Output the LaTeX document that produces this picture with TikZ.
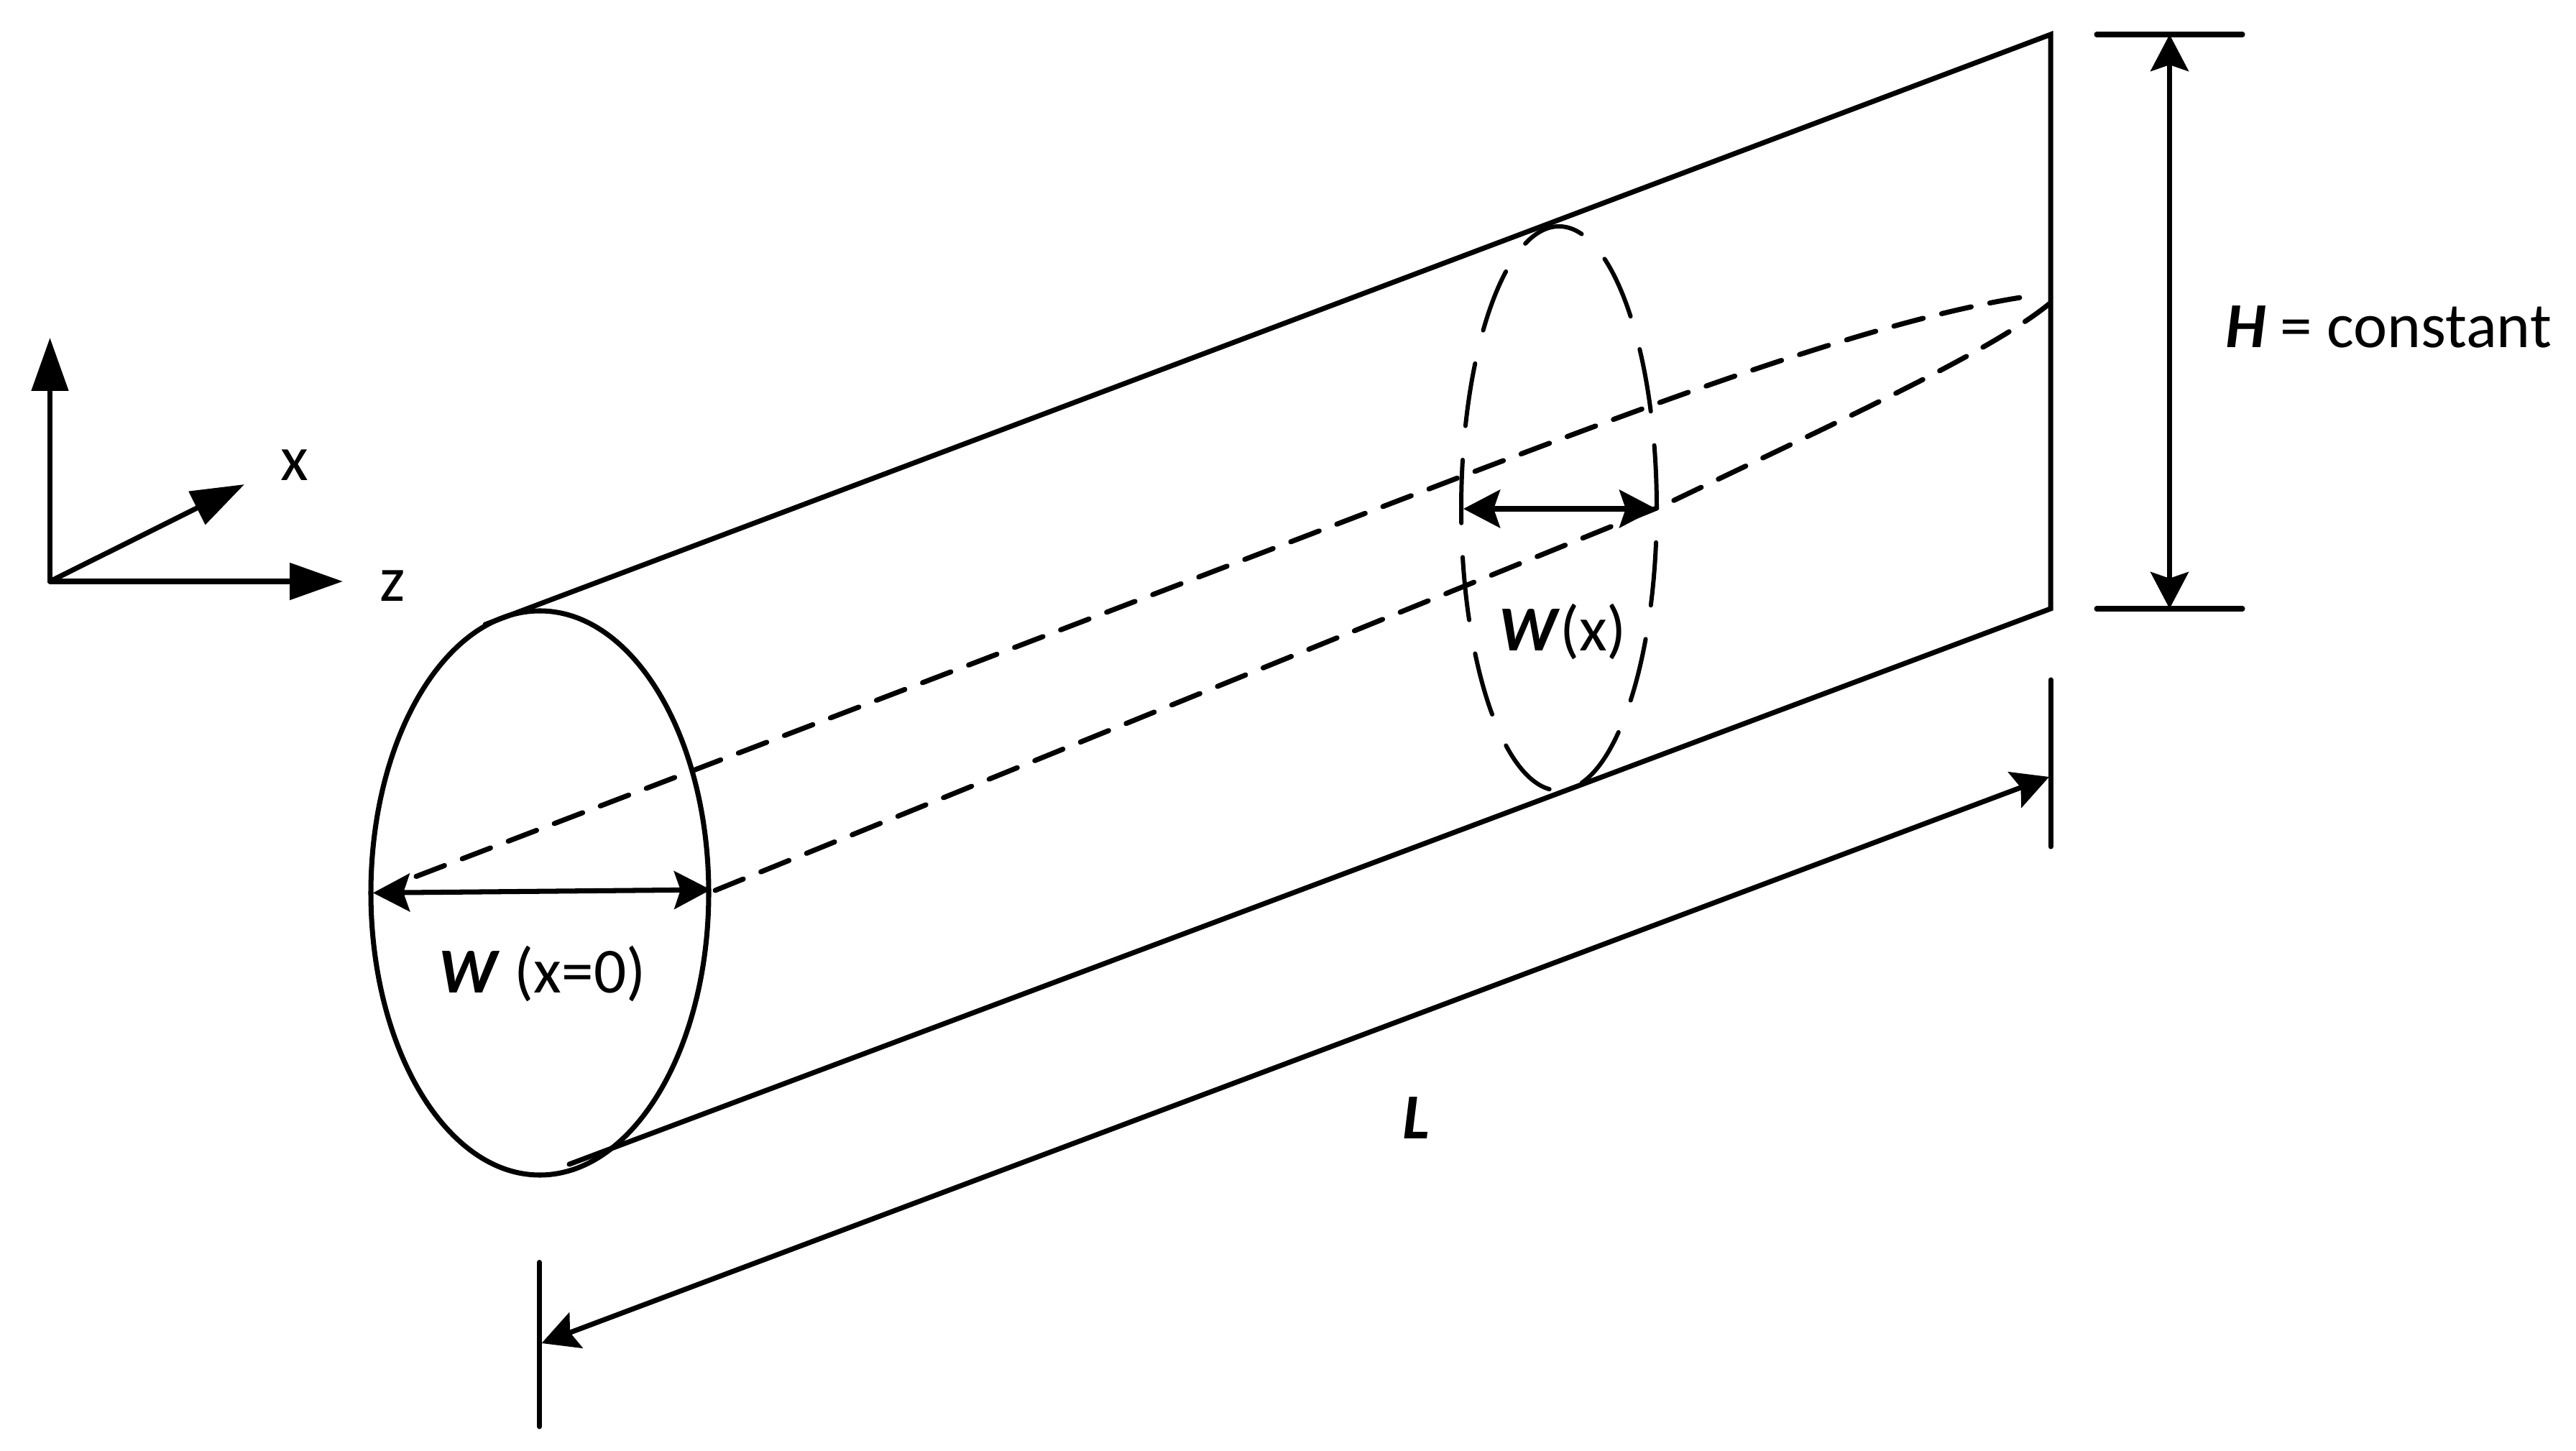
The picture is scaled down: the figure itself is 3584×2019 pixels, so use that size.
\documentclass[tikz,border=0pt]{standalone}
\usepackage{fontspec}
\setmainfont{Carlito}
\usetikzlibrary{arrows.meta}
\tikzset{
	dimtip/.tip={Stealth[length=14.5pt, width=15pt, inset=2.5pt]},
	axistip/.tip={Triangle[length=21pt, width=14.3pt]},
	tube/.style={line width=2pt, line cap=round},
	taper/.style={line width=2pt, line cap=round, dash pattern=on 12pt off 7.5pt},
	section/.style={line width=1.7pt, line cap=round, dash pattern=on 25pt off 13.5pt},
	lbl/.style={inner sep=0pt, font=\fontsize{25.4}{30}\selectfont}
}
\begin{document}
\begin{tikzpicture}[x=0.01cm, y=-0.01cm]
	\useasboundingbox (0,0) rectangle (3584,2019);
	\coordinate (orig) at (69.5,809);
	\coordinate (axisy) at (69.5,470);
	\coordinate (axisx) at (340,674);
	\coordinate (axisz) at (477,809);
	\draw[tube, -axistip] (orig) -- (axisy);
	\draw[tube, -axistip] (orig) -- (axisx);
	\draw[tube, -axistip] (orig) -- (axisz);
	\node[lbl, anchor=base] (xlabel) at (410,669) {x};
	\node[lbl, anchor=base] (zlabel) at (546,837) {z};

	\coordinate (tubetl) at (675,869);
	\coordinate (tubetr) at (2853,48);
	\coordinate (tubebr) at (2853,847);
	\coordinate (tubebl) at (792,1620);
	\draw[tube, line join=miter] (tubetl) -- (tubetr) -- (tubebr) -- (tubebl);
	\draw[tube] (751,1242.5) ellipse [x radius=235, y radius=392.5];
	\draw[section] (2305,707.5) arc [start angle=0, end angle=-360, x radius=136, y radius=392.5];

	\coordinate (upperstart) at (579,1219.5);
	\coordinate (uppermid) at (2036,662);
	\coordinate (upperend) at (2831,411);
	\coordinate (lowerstart) at (995,1239);
	\coordinate (lowermid) at (2317,702);
	\coordinate (lowerend) at (2852,422);
	\draw[taper] (upperstart) -- (uppermid) .. controls (2300,562) and (2620,440) .. (upperend);
	\draw[taper] (lowerstart) -- (lowermid) .. controls (2550,590) and (2770,490) .. (lowerend);

	\coordinate (widthl) at (519,1242.4);
	\coordinate (widthr) at (989,1238);
	\draw[tube, dimtip-dimtip] (widthl) -- (widthr);
	\node[lbl, anchor=base] (widthzero) at (754.5,1381) {\textbf{\textit{W}} (x=0)};
	\coordinate (midl) at (2036,708);
	\coordinate (midr) at (2304,708);
	\draw[tube, dimtip-dimtip] (midl) -- (midr);
	\node[lbl, anchor=base] (widthx) at (2174,906) {\textbf{\textit{W}}(x)};

	\coordinate (htopl) at (2917,48);
	\coordinate (htopr) at (3120,48);
	\coordinate (hbotl) at (2917,847);
	\coordinate (hbotr) at (3120,847);
	\coordinate (htop) at (3018.5,48);
	\coordinate (hbot) at (3018.5,847);
	\draw[tube] (htopl) -- (htopr);
	\draw[tube] (hbotl) -- (hbotr);
	\draw[tube, dimtip-dimtip] (htop) -- (hbot);
	\node[lbl, anchor=base] (height) at (3323,483.5) {\textbf{\textit{H}} = constant};

	\coordinate (ltop) at (2853,946);
	\coordinate (lbot) at (2853,1178);
	\coordinate (ktop) at (750.5,1756.5);
	\coordinate (kbot) at (750.5,1985);
	\coordinate (lenl) at (753.6,1869);
	\coordinate (lenr) at (2851,1081);
	\draw[tube] (ltop) -- (lbot);
	\draw[tube] (ktop) -- (kbot);
	\draw[tube, dimtip-dimtip] (lenl) -- (lenr);
	\node[lbl, anchor=base] (length) at (1970,1584) {\textbf{\textit{L}}};
\end{tikzpicture}
\end{document}
